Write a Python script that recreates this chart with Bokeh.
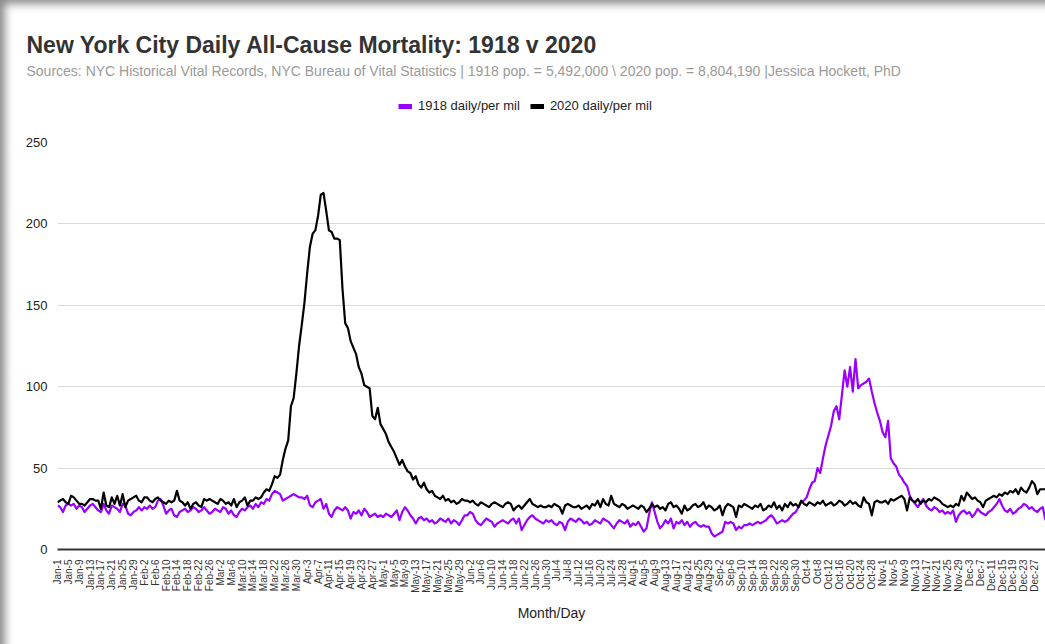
import math
import numpy as np
from bokeh.plotting import figure
from bokeh.layouts import column
from bokeh.models import Range1d, FixedTicker, Label, Legend, LegendItem
from bokeh.embed import file_html
from bokeh.resources import INLINE

# ---------------- data ----------------
title_text = "New York City Daily All-Cause Mortality: 1918 v 2020"
subtitle_text = ("Sources: NYC Historical Vital Records, NYC Bureau of Vital Statistics | "
                 "1918 pop. = 5,492,000 \\ 2020 pop. = 8,804,190  |Jessica Hockett, PhD")
series_names = ["1918 daily/per mil", "2020 daily/per mil"]
x_title = "Month/Day"

# daily deaths per million, 1918 (Jan-1 .. Dec-31)
v1918 = [
    # Jan
    27, 26, 23, 27, 28, 27, 28, 25, 27, 26, 23, 25, 27, 28, 26, 24, 23, 28, 24, 22, 27, 26, 25, 23, 28, 27, 22, 21, 23, 24, 26,
    # Feb
    24, 26, 25, 27, 25, 26, 30, 31, 27, 22, 24, 25, 21, 20, 23, 24, 25, 23, 24, 26, 25, 23, 24, 26, 24, 22, 23, 25,
    # Mar
    24, 23, 26, 25, 22, 24, 21, 20, 23, 25, 24, 26, 27, 25, 28, 26, 29, 28, 31, 30, 34, 36, 35, 34, 30, 31, 32, 33, 34, 33, 32,
    # Apr
    32, 31, 33, 27, 26, 29, 30, 31, 25, 28, 22, 20, 24, 26, 25, 24, 26, 24, 19, 23, 22, 24, 21, 25, 23, 20, 21, 22, 20, 21,
    # May
    20, 22, 21, 20, 22, 24, 18, 23, 26, 24, 21, 19, 16, 19, 20, 18, 19, 17, 18, 16, 17, 19, 18, 17, 19, 16, 18, 17, 15, 18, 21,
    # Jun
    21, 23, 22, 18, 16, 15, 17, 19, 18, 17, 14, 16, 17, 18, 17, 16, 18, 19, 16, 19, 12, 15, 18, 20, 21, 19, 18, 17, 16, 18,
    # Jul
    17, 18, 16, 15, 17, 16, 12, 17, 19, 18, 17, 19, 18, 16, 17, 15, 16, 18, 17, 16, 19, 18, 17, 15, 13, 16, 18, 17, 16, 18, 14,
    # Aug
    16, 15, 17, 14, 11, 13, 22, 29, 23, 17, 13, 15, 18, 16, 19, 13, 17, 16, 18, 15, 17, 14, 16, 17, 15, 14, 15, 14, 14, 10, 8,
    # Sep
    9, 10, 11, 17, 16, 17, 16, 12, 14, 13, 15, 15, 16, 15, 16, 17, 16, 17, 18, 20, 21, 19, 16, 17, 18, 17, 18, 20, 22, 23,
    # Oct
    26, 29, 30, 32, 37, 41, 42, 50, 47, 56, 64, 70, 76, 85, 88, 80, 95, 110, 100, 112, 97, 117, 99, 101, 102, 103, 105, 97, 90, 84, 79,
    # Nov
    72, 69, 79, 56, 53, 51, 46, 44, 41, 39, 33, 30, 28, 26, 29, 31, 27, 25, 24, 26, 25, 23, 24, 22, 23, 22, 24, 17, 21, 23,
    # Dec
    24, 22, 23, 20, 22, 25, 23, 22, 21, 23, 24, 26, 28, 31, 27, 24, 23, 25, 22, 23, 25, 26, 28, 27, 25, 26, 24, 23, 25, 26, 18,
]

# daily deaths per million, 2020 (Jan-1 .. Dec-31)
v2020 = [
    # Jan
    29, 30, 31, 29, 28, 33, 32, 30, 28, 28, 27, 29, 31, 31, 30, 30, 25, 35, 27, 26, 32, 28, 33, 27, 34, 26, 30, 31, 32, 33, 30,
    # Feb
    29, 32, 32, 30, 29, 31, 32, 30, 29, 28, 30, 29, 30, 36, 30, 29, 27, 29, 25, 28, 29, 27, 26, 31, 30, 31, 30, 29,
    # Mar
    28, 31, 30, 28, 29, 27, 31, 26, 29, 30, 32, 27, 30, 30, 32, 31, 32, 35, 37, 36, 40, 45, 44, 46, 55, 62, 67, 88, 93, 108, 125,
    # Apr
    138, 152, 170, 186, 194, 196, 205, 218, 219, 208, 196, 195, 191, 191, 190, 160, 139, 136, 128, 124, 120, 112, 108, 101, 100, 99, 82, 80, 87, 77,
    # May
    74, 71, 66, 63, 60, 56, 52, 55, 51, 48, 47, 43, 45, 40, 38, 41, 37, 35, 36, 33, 32, 31, 33, 30, 31, 29, 30, 28, 29, 31, 30,
    # Jun
    30, 29, 30, 28, 27, 29, 28, 27, 26, 28, 29, 28, 27, 26, 28, 29, 28, 24, 26, 27, 25, 27, 29, 31, 28, 27, 26, 27, 26, 26,
    # Jul
    27, 26, 28, 27, 26, 22, 27, 28, 27, 26, 26, 27, 25, 26, 27, 25, 28, 27, 30, 26, 31, 28, 27, 33, 28, 27, 26, 28, 27, 25, 26,
    # Aug
    27, 26, 25, 27, 26, 23, 25, 28, 26, 27, 25, 26, 24, 28, 29, 26, 27, 25, 22, 27, 24, 25, 27, 28, 26, 27, 29, 25, 27, 26, 24,
    # Sep
    25, 27, 21, 26, 28, 27, 26, 20, 27, 26, 28, 27, 26, 25, 27, 26, 28, 24, 25, 27, 26, 29, 25, 27, 24, 28, 26, 29, 27, 28,
    # Oct
    26, 30, 28, 27, 29, 28, 27, 29, 28, 30, 27, 28, 29, 27, 28, 30, 29, 27, 28, 30, 28, 29, 27, 26, 32, 29, 28, 21, 29, 30, 29,
    # Nov
    29, 30, 28, 31, 30, 31, 32, 33, 31, 24, 32, 30, 29, 31, 28, 30, 29, 31, 30, 32, 31, 30, 28, 27, 26, 27, 26, 28, 27, 33,
    # Dec
    30, 35, 33, 31, 32, 30, 29, 26, 30, 31, 32, 33, 32, 34, 33, 35, 34, 36, 35, 37, 34, 38, 36, 35, 38, 42, 40, 34, 37, 37, 37,
]

# x tick labels, every 4th day starting Jan-1
tick_labels = [
    "Jan-1", "Jan-5", "Jan-9", "Jan-13", "Jan-17", "Jan-21", "Jan-25", "Jan-29",
    "Feb-2", "Feb-6", "Feb-10", "Feb-14", "Feb-18", "Feb-22", "Feb-26",
    "Mar-2", "Mar-6", "Mar-10", "Mar-14", "Mar-18", "Mar-22", "Mar-26", "Mar-30",
    "Apr-3", "Apr-7", "Apr-11", "Apr-15", "Apr-19", "Apr-23", "Apr-27",
    "May-1", "May-5", "May-9", "May-13", "May-17", "May-21", "May-25", "May-29",
    "Jun-2", "Jun-6", "Jun-10", "Jun-14", "Jun-18", "Jun-22", "Jun-26", "Jun-30",
    "Jul-4", "Jul-8", "Jul-12", "Jul-16", "Jul-20", "Jul-24", "Jul-28",
    "Aug-1", "Aug-5", "Aug-9", "Aug-13", "Aug-17", "Aug-21", "Aug-25", "Aug-29",
    "Sep-2", "Sep-6", "Sep-10", "Sep-14", "Sep-18", "Sep-22", "Sep-26", "Sep-30",
    "Oct-4", "Oct-8", "Oct-12", "Oct-16", "Oct-20", "Oct-24", "Oct-28",
    "Nov-1", "Nov-5", "Nov-9", "Nov-13", "Nov-17", "Nov-21", "Nov-25", "Nov-29",
    "Dec-3", "Dec-7", "Dec-11", "Dec-15", "Dec-19", "Dec-23", "Dec-27",
]
y_ticks = [0, 50, 100, 150, 200, 250]

# ---------------- styling ----------------
PURPLE = "#9900ff"
BLACK = "#000000"
FONT = "Liberation Sans"
W = 1045
HEADER_H = 128

days1918 = list(range(len(v1918)))
days2020 = list(range(len(v2020)))
tick_days = [i * 4 for i in range(len(tick_labels))]
n_days = max(len(v1918), len(v2020)) - 1

# ---- header: title, subtitle, legend (positions in screen px from header bottom-left) ----
hdr = figure(width=W, height=HEADER_H, output_backend="svg", toolbar_location=None,
             x_range=Range1d(0, W), y_range=Range1d(0, HEADER_H),
             x_axis_type=None, y_axis_type=None, title_location=None,
             min_border_left=0, min_border_right=0, min_border_top=0,
             min_border_bottom=0)
hdr.frame_align = False
hdr.outline_line_color = None
hdr.background_fill_alpha = 0
hdr.border_fill_alpha = 0

hdr.add_layout(Label(x=26, y=HEADER_H - 44, x_units="screen", y_units="screen",
                     text=title_text, text_font=FONT,
                     text_font_size="23px", text_font_style="bold",
                     text_color="#333333", text_baseline="alphabetic"))
hdr.add_layout(Label(x=26, y=HEADER_H - 70, x_units="screen", y_units="screen",
                     text=subtitle_text, text_font=FONT,
                     text_font_size="14px", text_color="#9a9a9a",
                     text_baseline="alphabetic"))

# legend-only renderers (no visible data)
leg1 = hdr.line(x=np.array([np.nan]), y=np.array([np.nan]), line_color=PURPLE, line_width=5)
leg2 = hdr.line(x=np.array([np.nan]), y=np.array([np.nan]), line_color=BLACK, line_width=5)
legend = Legend(items=[LegendItem(label=series_names[0], renderers=[leg1]),
                       LegendItem(label=series_names[1], renderers=[leg2])],
                orientation="horizontal", location=(398, 15),
                glyph_width=14, glyph_height=14, label_height=14,
                padding=0, margin=0, spacing=10, label_standoff=6,
                border_line_color=None, background_fill_alpha=0,
                label_text_font=FONT, label_text_font_size="13px",
                label_text_color="#222222")
hdr.add_layout(legend)

# ---- main chart ----
p = figure(width=W, height=644 - HEADER_H, output_backend="svg", toolbar_location=None,
           x_range=Range1d(0, n_days), y_range=Range1d(0, 250), title_location=None,
           min_border_left=57, min_border_right=0, min_border_top=142 - HEADER_H,
           min_border_bottom=95)
p.frame_align = False
p.outline_line_color = None
p.background_fill_color = "white"
p.border_fill_alpha = 0

p.xgrid.visible = False
p.ygrid.grid_line_color = "#d9d9d9"
p.ygrid.grid_line_width = 1

p.yaxis.ticker = FixedTicker(ticks=y_ticks)
p.yaxis.axis_line_color = None
p.yaxis.major_tick_line_color = None
p.yaxis.minor_tick_line_color = None
p.yaxis.major_label_text_font = FONT
p.yaxis.major_label_text_font_size = "13px"
p.yaxis.major_label_text_color = "#222222"
p.yaxis.major_label_standoff = 4

p.xaxis.ticker = FixedTicker(ticks=tick_days)
p.xaxis.major_label_overrides = {d: lab for d, lab in zip(tick_days, tick_labels)}
p.xaxis.major_label_orientation = math.pi / 2
p.xaxis.major_label_text_font = FONT
p.xaxis.major_label_text_font_size = "10px"
p.xaxis.major_label_text_color = "#333333"
p.xaxis.major_label_standoff = 4
p.xaxis.axis_line_color = "#333333"
p.xaxis.axis_line_width = 2
p.xaxis.major_tick_line_color = None
p.xaxis.minor_tick_line_color = None
p.xaxis.axis_label = x_title
p.xaxis.axis_label_text_font = FONT
p.xaxis.axis_label_text_font_size = "14px"
p.xaxis.axis_label_text_font_style = "normal"
p.xaxis.axis_label_text_color = "#222222"
p.xaxis.axis_label_standoff = 9

p.line(days1918, v1918, line_color=PURPLE, line_width=2.2, line_join="round")
p.line(days2020, v2020, line_color=BLACK, line_width=2.2, line_join="round")

layout = column(hdr, p, spacing=0)
layout.styles = {"box-shadow": "inset 9px 8px 8px -4px rgba(0,0,0,0.45)"}

open("out.html", "w").write(file_html(layout, INLINE))
